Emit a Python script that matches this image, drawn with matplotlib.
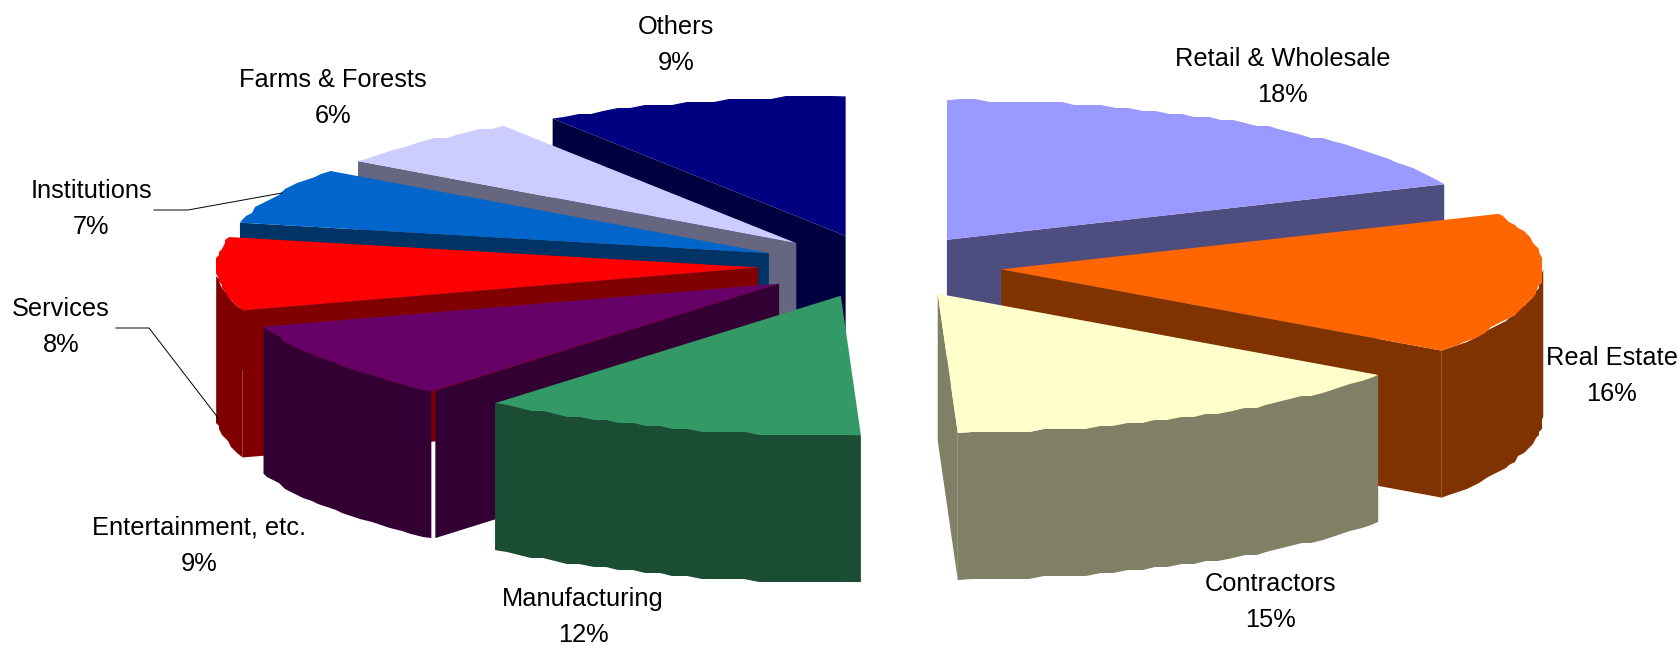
import numpy as np
import matplotlib
matplotlib.use('Agg')
import matplotlib.pyplot as plt
from matplotlib.colors import to_rgb

plt.rcParams['font.family'] = ['Liberation Sans', 'DejaVu Sans']

# pie data, clockwise from 12 o'clock
categories = ['Retail & Wholesale', 'Real Estate', 'Contractors', 'Manufacturing',
              'Entertainment, etc.', 'Services', 'Institutions', 'Farms & Forests', 'Others']
shares = [18.49, 16.41, 14.51, 11.6, 9.0, 8.49, 6.51, 5.9, 9.09]
colors = ['#9999FF', '#FF6600', '#FFFFCC', '#339966', '#660066',
          '#FF0000', '#0066CC', '#CCCCFF', '#000080']
label_x = [1283, 1612, 1271, 583, 199, 61, 91, 333, 676]
label_y = [59, 358, 584, 599, 528, 309, 191, 80, 27]

# pie geometry in pixels
cx, cy = 880, 266
rx, ry = 542, 139.5
depth = 147
explode = 0.225
grid = 3
# back slices go first so the front ones cover them
draw_order = [8, 7, 6, 5, 4, 3, 0, 1, 2]

def shade(c):
    return tuple(v * 0.5 for v in to_rgb(c))

def rim(a, b, ox, oy):
    # coarse stepped outline, like a low resolution 3-D pie
    n = max(int((b - a) / 1.5), 2)
    t = np.radians(np.linspace(a, b, n + 1))
    x = ox + rx * np.sin(t)
    y = oy - ry * np.cos(t)
    x[1:-1] = np.round(x[1:-1] / grid) * grid
    y[1:-1] = np.round(y[1:-1] / grid) * grid
    return x, y

fig = plt.figure(figsize=(16.81, 6.48), dpi=100)
ax = fig.add_axes([0, 0, 1, 1])
ax.set_xlim(0, 1681)
ax.set_ylim(648, 0)
ax.axis('off')

edges = np.cumsum([0] + shares) / sum(shares) * 360

for i in draw_order:
    a, b = edges[i], edges[i + 1]
    mid = np.radians((a + b) / 2)
    ox = cx + rx * explode * np.sin(mid)
    oy = cy - ry * explode * np.cos(mid)
    top = colors[i]
    side = shade(top)
    # a small split between the rim wall and the cut wall of one slice
    gap = 2 if categories[i].startswith('Entertainment') else 0

    # cut walls that face the viewer
    if np.cos(np.radians(a - 90)) < -1e-6:
        ex = ox + rx * np.sin(np.radians(a)) + gap
        ey = oy - ry * np.cos(np.radians(a))
        ax.fill([ox, ex, ex, ox], [oy, ey, ey + depth, oy + depth], color=side, lw=0)
    if np.cos(np.radians(b + 90)) < -1e-6:
        ex = ox + rx * np.sin(np.radians(b))
        ey = oy - ry * np.cos(np.radians(b))
        ax.fill([ox, ex, ex, ox], [oy, ey, ey + depth, oy + depth], color=side, lw=0)

    # outer wall, only on the front half
    wa, wb = max(a, 90), min(b, 270)
    if wb > wa:
        x, y = rim(wa, wb, ox, oy)
        if gap:
            x = x - gap * (x > x.max() - 8)
        ax.fill(np.r_[x, x[::-1]], np.r_[y, y[::-1] + depth], color=side, lw=0)

    # top face
    x, y = rim(a, b, ox, oy)
    ax.fill(np.r_[ox, x], np.r_[oy, y], color=top, lw=0)

# leader lines for the two labels set away from their slices
ax.plot([154, 188, 282], [210, 210, 193], color='black', lw=0.7)
ax.plot([116, 149, 219], [328, 328, 419], color='black', lw=0.7)

for name, share, x, y in zip(categories, shares, label_x, label_y):
    ax.text(x, y, name, ha='center', va='center', fontsize=18.3, color='black')
    ax.text(x, y + 36, f'{share:.0f}%', ha='center', va='center', fontsize=18.3, color='black')

plt.savefig('out.png', dpi=100)
